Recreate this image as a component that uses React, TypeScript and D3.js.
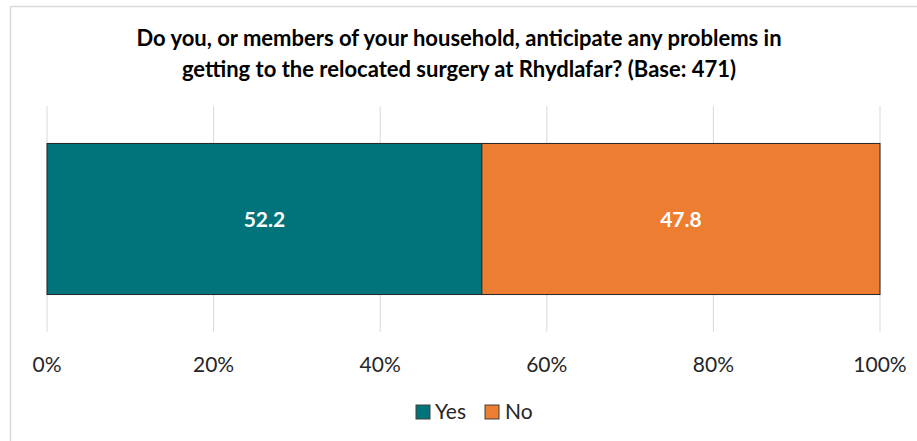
import React from "react";
import * as d3 from "d3";

const categories = ["Yes", "No"];
const values = [52.2, 47.8];
const colors = ["#00747A", "#ED7D31"];
const tickValues = [0, 20, 40, 60, 80, 100];
const titleLines = [
  "Do you, or members of your household, anticipate any problems in",
  "getting to the relocated surgery at Rhydlafar? (Base: 471)",
];

export default function App() {
  const W = 917, H = 441;
  const x = d3.scaleLinear().domain([0, 100]).range([47, 880]);
  const y = d3.scaleBand().domain(["q"]).range([106, 332]).paddingInner(0).paddingOuter(0.248);
  const bw = y.bandwidth();
  const by = y("q")!;
  let acc = 0;
  const segs = values.map((v, i) => {
    const s = { x0: acc, x1: acc + v, v, c: colors[i], name: categories[i] };
    acc += v;
    return s;
  });
  const font = "Lato, 'Open Sans', sans-serif";
  const legendItems = [
    { name: categories[0], sx: 416, tx: 435 },
    { name: categories[1], sx: 485, tx: 505 },
  ];
  return (
    <svg width={W} height={H} style={{ position: "absolute", left: 0, top: 0 }} fontFamily={font}>
      <rect x={0} y={0} width={W} height={H} fill="#fff" />
      <line x1={10.5} y1={6} x2={10.5} y2={H} stroke="#d9d9d9" strokeWidth={1.5} />
      <line x1={10} y1={6.5} x2={W} y2={6.5} stroke="#d9d9d9" strokeWidth={1.5} />
      {titleLines.map((t, i) => (
        <text key={i} x={459} y={46 + i * 31} textAnchor="middle" fontSize={22} fontWeight="bold" fill="#000">
          {t}
        </text>
      ))}
      {tickValues.map((t) => (
        <line key={t} x1={x(t)} x2={x(t)} y1={106} y2={332} stroke="#d9d9d9" strokeWidth={1} />
      ))}
      {segs.map((s) => (
        <g key={s.name}>
          <rect x={x(s.x0)} y={by} width={x(s.x1) - x(s.x0)} height={bw} fill={s.c} stroke="#262626" strokeWidth={1} />
          <text x={(x(s.x0) + x(s.x1)) / 2} y={227} textAnchor="middle" fill="#fff" fontWeight="bold" fontSize={21}>
            {s.v.toFixed(1)}
          </text>
        </g>
      ))}
      {tickValues.map((t) => (
        <text key={t} x={x(t)} y={372} textAnchor="middle" fontSize={21} fill="#262626">
          {t}%
        </text>
      ))}
      {legendItems.map((it, i) => (
        <g key={it.name}>
          <rect x={it.sx} y={405} width={14} height={14} fill={colors[i]} stroke="#404040" strokeWidth={1} />
          <text x={it.tx} y={419} fontSize={21} fill="#262626">
            {it.name}
          </text>
        </g>
      ))}
    </svg>
  );
}
